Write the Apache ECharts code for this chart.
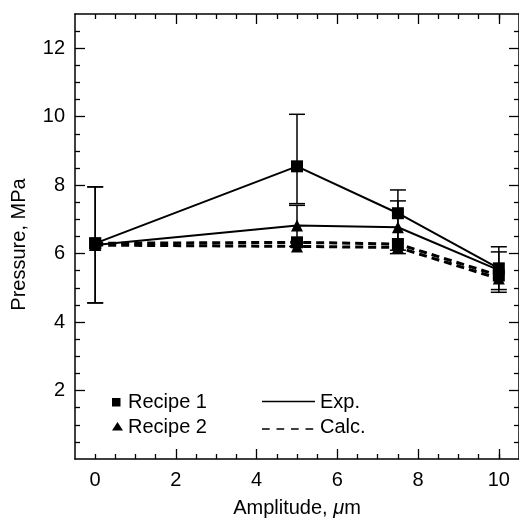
<!DOCTYPE html>
<html>
<head>
<meta charset="utf-8">
<script src="https://cdn.jsdelivr.net/npm/echarts@6/dist/echarts.min.js"></script>
<style>
  html, body { margin: 0; padding: 0; background: #fff; }
  #chart { width: 519px; height: 523px; }
</style>
</head>
<body>
<div id="chart"></div>
<script>
// Amplitude (µm) at which pressure was measured / computed
const amplitude = [0, 5, 7.5, 10];

// Experimental pressure, MPa
const recipe1Exp = [6.30, 8.55, 7.18, 5.57];
const recipe2Exp = [6.25, 6.82, 6.77, 5.52];

// Calculated pressure, MPa
const recipe1Calc = [6.30, 6.33, 6.28, 5.36];
const recipe2Calc = [6.25, 6.21, 6.18, 5.27];

// Experimental scatter (lower / upper bound), MPa
const recipe1Low  = [4.56, 7.46, 6.10, 4.95];
const recipe1High = [7.95, 10.07, 7.86, 6.20];
const recipe2Low  = [4.56, 6.21, 6.00, 4.87];
const recipe2High = [7.95, 7.41, 7.54, 6.05];

// Tick positions
const xMajorTicks = [2, 4, 6, 8, 10];
const xLabels = [0, 2, 4, 6, 8, 10];
const xMinorTicks = [0, 0.5, 1, 1.5, 2.5, 3, 3.5, 4.5, 5, 5.5, 6.5, 7, 7.5, 8.5, 9, 9.5, 10];
const yMajorTicks = [2, 4, 6, 8, 10, 12];
const yLabels = [2, 4, 6, 8, 10, 12];
const yMinorTicks = [0.5, 1, 1.5, 2.5, 3, 3.5, 4.5, 5, 5.5, 6.5, 7, 7.5, 8.5, 9, 9.5, 10.5, 11, 11.5, 12.5];

const FONT = 'Liberation Sans, Arial, Helvetica, sans-serif';
const INK = '#000';

const pairs = (xs, ys) => xs.map((x, i) => [x, ys[i]]);
const bars = (xs, lo, hi) => xs.map((x, i) => [x, lo[i], hi[i]]);

function errorBar(params, api) {
  const x = api.value(0);
  const pLo = api.coord([x, api.value(1)]);
  const pHi = api.coord([x, api.value(2)]);
  const hw = 8;
  const st = { stroke: INK, lineWidth: 1.5 };
  return {
    type: 'group',
    children: [
      { type: 'line', shape: { x1: pLo[0], y1: pLo[1], x2: pHi[0], y2: pHi[1] }, style: st },
      { type: 'line', shape: { x1: pLo[0] - hw, y1: pLo[1], x2: pLo[0] + hw, y2: pLo[1] }, style: st },
      { type: 'line', shape: { x1: pHi[0] - hw, y1: pHi[1], x2: pHi[0] + hw, y2: pHi[1] }, style: st }
    ]
  };
}

function valueAxis(kind, pos, ticks, len, opts) {
  const base = {
    type: 'value',
    position: pos,
    min: kind === 'x' ? -0.5 : 0,
    max: kind === 'x' ? 10.5 : 13,
    splitLine: { show: false },
    axisLine: { show: !!opts.line, onZero: false, lineStyle: { color: INK, width: 1.5 } },
    axisTick: { show: true, inside: true, length: len, customValues: ticks, lineStyle: { color: INK, width: 1.3 } },
    axisLabel: { show: false },
    axisPointer: { show: false }
  };
  if (opts.labels) {
    base.axisLabel = {
      show: true, customValues: opts.labels, color: INK,
      fontFamily: FONT, fontSize: 20, margin: kind === 'x' ? 11 : 10
    };
  }
  return base;
}

const lineBase = (data, dashed, symbol, size) => ({
  type: 'line',
  data: data,
  symbol: symbol,
  symbolSize: size,
  showSymbol: true,
  itemStyle: { color: INK, borderWidth: 0 },
  lineStyle: dashed
    ? { color: INK, width: 3, type: [8, 5] }
    : { color: INK, width: 2 },
  z: dashed ? 3 : 4,
  silent: true,
  animation: false
});

const chart = echarts.init(document.getElementById('chart'), null, { renderer: 'canvas' });

chart.setOption({
  backgroundColor: '#fff',
  animation: false,
  grid: { left: 75, top: 14, width: 445, height: 450, containLabel: false },
  xAxis: [
    Object.assign(valueAxis('x', 'bottom', xMajorTicks, 10, { line: true, labels: xLabels }), {
      name: 'Amplitude, {i|μ}m',
      nameLocation: 'middle',
      nameGap: 39,
      nameTextStyle: {
        color: INK, fontFamily: FONT, fontSize: 20,
        rich: { i: { fontStyle: 'italic', fontFamily: FONT, fontSize: 20, color: INK } }
      }
    }),
    valueAxis('x', 'bottom', xMinorTicks, 5, {}),
    valueAxis('x', 'top', xMajorTicks, 10, { line: true }),
    valueAxis('x', 'top', xMinorTicks, 5, {})
  ],
  yAxis: [
    Object.assign(valueAxis('y', 'left', yMajorTicks, 10, { line: true, labels: yLabels }), {
      name: 'Pressure, MPa',
      nameLocation: 'middle',
      nameGap: 46,
      nameTextStyle: { color: INK, fontFamily: FONT, fontSize: 20, padding: [0, 16, 0, 0] }
    }),
    valueAxis('y', 'left', yMinorTicks, 5, {}),
    valueAxis('y', 'right', yMajorTicks, 10, { line: true }),
    valueAxis('y', 'right', yMinorTicks, 5, {})
  ],
  series: [
    {
      type: 'custom', renderItem: errorBar, data: bars(amplitude, recipe1Low, recipe1High),
      encode: { x: 0, y: [1, 2] }, z: 2, silent: true
    },
    {
      type: 'custom', renderItem: errorBar, data: bars(amplitude, recipe2Low, recipe2High),
      encode: { x: 0, y: [1, 2] }, z: 2, silent: true
    },
    lineBase(pairs(amplitude, recipe2Calc), true, 'triangle', 12),
    lineBase(pairs(amplitude, recipe1Calc), true, 'rect', 12),
    lineBase(pairs(amplitude, recipe2Exp), false, 'triangle', 12),
    lineBase(pairs(amplitude, recipe1Exp), false, 'rect', 12)
  ],
  graphic: [
    // symbol key
    { type: 'rect', shape: { x: 112, y: 398, width: 8.5, height: 8.5 }, style: { fill: INK } },
    { type: 'text', x: 128, y: 402.5, style: { text: 'Recipe 1', font: '20px ' + FONT, fill: INK, verticalAlign: 'middle' } },
    { type: 'polygon', shape: { points: [[117.5, 422], [112, 430.5], [123, 430.5]] }, style: { fill: INK } },
    { type: 'text', x: 128, y: 427, style: { text: 'Recipe 2', font: '20px ' + FONT, fill: INK, verticalAlign: 'middle' } },
    // line-style key
    { type: 'line', shape: { x1: 262, y1: 401.5, x2: 315, y2: 401.5 }, style: { stroke: INK, lineWidth: 1.5 } },
    { type: 'text', x: 320, y: 402.5, style: { text: 'Exp.', font: '20px ' + FONT, fill: INK, verticalAlign: 'middle' } },
    { type: 'line', shape: { x1: 262, y1: 429, x2: 315, y2: 429 }, style: { stroke: INK, lineWidth: 1.5, lineDash: [7.7, 6.8] } },
    { type: 'text', x: 320, y: 427, style: { text: 'Calc.', font: '20px ' + FONT, fill: INK, verticalAlign: 'middle' } }
  ]
});
</script>
</body>
</html>
